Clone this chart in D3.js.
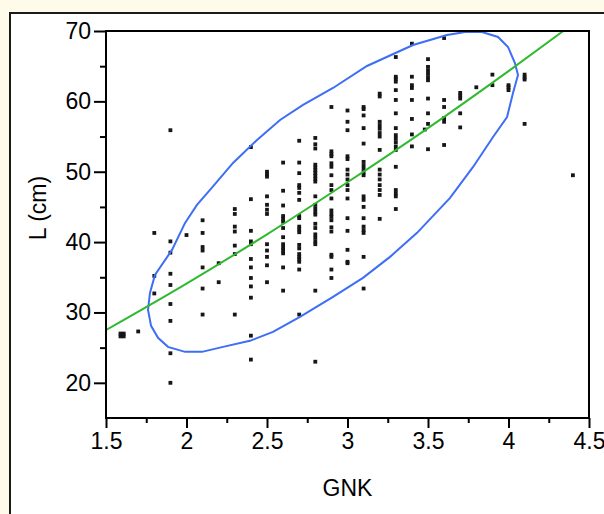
<!DOCTYPE html>
<html><head><meta charset="utf-8">
<script src="https://cdn.jsdelivr.net/npm/d3@7"></script>
<style>
html,body{margin:0;padding:0;background:#fffbea;}
svg{display:block;}
text{font-family:"Liberation Sans",Arial,sans-serif;}
</style>
</head><body>
<svg id="chart" width="604" height="514"></svg>
<script>
// ---- data ----
const gnkColumns = [1.59, 1.61, 1.7, 1.8, 1.9, 2.0, 2.1, 2.2, 2.3, 2.4, 2.5, 2.6, 2.7, 2.8, 2.9, 3.0, 3.1, 3.2, 3.3, 3.4, 3.48, 3.5, 3.6, 3.7, 3.8, 3.9, 4.0, 4.1, 4.4];
const lByColumn = [
  [26.6, 27.0],
  [26.6, 27.0],
  [27.3],
  [41.3, 35.2, 32.7],
  [55.9, 40.1, 38.5, 35.5, 33.9, 31.2, 28.8, 24.2, 20.0],
  [41.0],
  [43.1, 41.3, 39.3, 38.8, 36.4, 33.4, 29.7],
  [37.0, 34.3],
  [44.7, 44.0, 42.2, 41.5, 39.5, 38.3, 29.7],
  [53.5, 46.1, 41.6, 40.1, 39.7, 37.6, 36.4, 34.9, 33.7, 32.1, 26.7, 23.3],
  [50.0, 49.6, 49.3, 46.5, 45.3, 44.6, 44.0, 39.7, 38.8, 37.9, 36.7, 34.3],
  [51.3, 47.3, 45.2, 43.7, 43.3, 42.9, 42.0, 40.7, 39.7, 39.2, 38.8, 38.4, 36.4, 33.1],
  [54.4, 51.3, 49.8, 48.1, 47.7, 47.0, 46.0, 43.7, 43.4, 42.2, 41.8, 41.4, 39.6, 39.1, 38.3, 37.9, 37.6, 37.2, 36.1, 29.7],
  [54.8, 53.9, 53.3, 51.0, 50.6, 50.2, 49.8, 49.4, 49.0, 48.6, 46.5, 45.3, 44.8, 44.3, 43.9, 42.6, 42.0, 41.1, 40.6, 40.1, 39.7, 33.1, 23.0],
  [59.2, 52.9, 52.5, 52.2, 51.2, 50.7, 49.5, 48.1, 47.4, 46.2, 44.5, 44.0, 43.6, 43.1, 42.1, 41.5, 38.2, 37.9, 36.1, 34.9],
  [58.7, 57.1, 55.9, 52.2, 51.8, 50.3, 49.6, 48.9, 48.1, 47.4, 46.2, 43.4, 41.6, 38.9, 37.2, 37.0],
  [59.2, 58.9, 58.0, 56.2, 54.0, 51.4, 50.9, 50.4, 49.9, 49.5, 46.5, 46.0, 45.0, 43.4, 42.2, 41.7, 41.3, 37.9, 33.4],
  [61.1, 60.7, 57.1, 56.6, 56.1, 55.5, 55.0, 53.1, 50.3, 49.6, 48.9, 48.1, 47.4, 46.7, 43.3],
  [66.3, 63.5, 63.2, 62.8, 61.6, 60.2, 58.3, 56.2, 55.2, 54.7, 54.2, 53.6, 53.1, 50.7, 47.4, 46.9, 46.5, 44.7],
  [68.2, 63.5, 62.3, 61.9, 60.2, 57.5, 55.3, 53.6],
  [56.0],
  [66.0, 64.9, 64.4, 63.9, 63.4, 63.0, 60.4, 58.3, 56.8, 53.2],
  [69.0, 60.2, 59.2, 57.6, 57.1, 53.8],
  [61.2, 60.8, 60.4, 58.3, 56.3],
  [62.0],
  [63.8, 62.3],
  [62.3, 62.0, 61.6],
  [63.8, 63.4, 63.1, 56.8],
  [49.5]
];
const xTickValues = [1.5, 2, 2.5, 3, 3.5, 4, 4.5];
const xMinorValues = [1.75, 2.25, 2.75, 3.25, 3.75, 4.25];
const yTickValues = [20, 30, 40, 50, 60, 70];
const yMinorValues = [25, 35, 45, 55, 65];
const fitGnk = [1.5, 2.0, 2.5, 3.0, 3.5, 4.0, 4.34];
const fitL = [27.5, 34.1, 41.1, 48.5, 56.2, 64.3, 70.0];
const ellipseGnk = [1.761,1.773,1.804,1.910,1.991,2.065,2.146,2.289,2.438,2.581,2.724,2.910,3.121,3.407,3.618,3.730,3.835,3.935,3.997,4.040,4.059,4.028,3.991,3.904,3.780,3.637,3.432,3.264,3.096,2.910,2.705,2.537,2.394,2.227,2.096,1.991,1.885,1.823,1.780];
const ellipseL = [30.37,32.78,35.34,38.89,42.73,45.28,47.41,51.25,54.52,57.36,59.49,61.90,65.03,68.01,69.43,69.86,69.86,69.15,67.73,65.45,63.75,61.19,57.78,54.94,50.68,46.28,41.31,37.90,34.91,32.22,29.38,27.24,25.97,25.11,24.40,24.40,25.11,26.39,28.10];
const xLabel = "GNK";
const yLabel = "L (cm)";

// ---- drawing ----
const svg = d3.select("#chart");
const W = 604, H = 514;
const plot = {left: 106, right: 589, top: 31, bottom: 418};
const FS = 23;

svg.append("rect").attr("width", W).attr("height", H).attr("fill", "#fffbea");
svg.append("rect").attr("x", 10).attr("y", 13).attr("width", W + 20).attr("height", H + 20)
  .attr("fill", "#ffffff").attr("stroke", "#1a1a1a").attr("stroke-width", 2);

const x = d3.scaleLinear().domain([1.5, 4.5]).range([plot.left, plot.right]);
const y = d3.scaleLinear().domain([15, 70]).range([plot.bottom, plot.top]);

const clipId = "plotclip";
svg.append("clipPath").attr("id", clipId).append("rect")
  .attr("x", plot.left).attr("y", plot.top - 1)
  .attr("width", plot.right - plot.left).attr("height", plot.bottom - plot.top + 1);

const g = svg.append("g").attr("clip-path", `url(#${clipId})`);

// points
const points = [];
gnkColumns.forEach((gx, i) => lByColumn[i].forEach(lv => points.push({gnk: gx, l: lv})));
const s = 3.8;
g.append("g").selectAll("rect").data(points).join("rect")
  .attr("x", d => x(d.gnk) - s / 2).attr("y", d => y(d.l) - s / 2)
  .attr("width", s).attr("height", s).attr("fill", "#161616");

// ellipse
const ell = ellipseGnk.map((v, i) => [v, ellipseL[i]]);
g.append("path").datum(ell)
  .attr("d", d3.line().x(d => x(d[0])).y(d => y(d[1])).curve(d3.curveLinearClosed))
  .attr("fill", "none").attr("stroke", "#3d6ef5").attr("stroke-width", 2);

// fit curve
const fit = fitGnk.map((v, i) => [v, fitL[i]]);
g.append("path").datum(fit)
  .attr("d", d3.line().x(d => x(d[0])).y(d => y(d[1])).curve(d3.curveMonotoneX))
  .attr("fill", "none").attr("stroke", "#2fb92f").attr("stroke-width", 2);

// frame
svg.append("rect").attr("x", plot.left).attr("y", plot.top)
  .attr("width", plot.right - plot.left).attr("height", plot.bottom - plot.top)
  .attr("fill", "none").attr("stroke", "#000").attr("stroke-width", 2);

// axes
const axisStyle = sel => {
  sel.select(".domain").remove();
  sel.selectAll("line").attr("stroke", "#000").attr("stroke-width", 2);
  sel.selectAll("text").attr("font-size", FS).attr("fill", "#000")
    .style("font-family", '"Liberation Sans", Arial, sans-serif');
};
svg.append("g").attr("transform", `translate(0,${plot.bottom})`)
  .call(d3.axisBottom(x).tickValues(xTickValues).tickSize(10).tickPadding(5).tickFormat(d3.format("")))
  .call(axisStyle);
svg.append("g").attr("transform", `translate(0,${plot.bottom})`)
  .call(d3.axisBottom(x).tickValues(xMinorValues).tickSize(5).tickFormat(""))
  .call(axisStyle);
svg.append("g").attr("transform", `translate(${plot.left},0)`)
  .call(d3.axisLeft(y).tickValues(yTickValues).tickSize(12).tickPadding(3))
  .call(axisStyle);
svg.append("g").attr("transform", `translate(${plot.left},0)`)
  .call(d3.axisLeft(y).tickValues(yMinorValues).tickSize(6).tickFormat(""))
  .call(axisStyle);

// axis titles
svg.append("text").attr("x", (plot.left + plot.right) / 2).attr("y", 496)
  .attr("text-anchor", "middle").attr("font-size", FS).attr("fill", "#000").text(xLabel);
svg.append("text").attr("transform", `translate(46,208) rotate(-90)`)
  .attr("text-anchor", "middle").attr("font-size", FS).attr("fill", "#000").text(yLabel);
</script>
</body></html>
